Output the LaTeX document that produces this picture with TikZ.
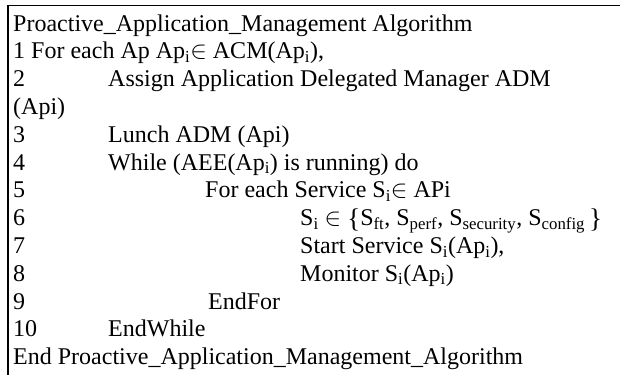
\documentclass[tikz,border=0pt]{standalone}
\usepackage{fontspec}
\setmainfont{Liberation Serif}
\newcommand{\sub}[1]{\textsubscript{#1}}
\newcommand{\tallbrace}[1]{\raisebox{-1.5pt}{\fontsize{27pt}{28pt}\selectfont #1}}
\begin{document}
\begin{tikzpicture}[x=1pt,y=-1pt,
  txt/.style={anchor=base west, inner sep=0pt, font=\fontsize{24pt}{28pt}\selectfont},
  rule/.style={line width=1.6pt, black}]
\useasboundingbox (0,0) rectangle (620,375);
% frame: top and left rules only
\coordinate (tl) at (8,5.5);
\coordinate (tr) at (620,5.5);
\coordinate (bl) at (8,375);
\draw[rule] (tr) -- (tl) -- (bl);
% algorithm listing
\node[txt] (title) at (13,31) {Proactive\_Application\_Management Algorithm};
\node[txt] (l1) at (13,58.8) {1 For each Ap Ap\sub{i}$\in$ ACM(Ap\sub{i}),};
\node[txt] (n2) at (13,86.6) {2};
\node[txt] (l2) at (108,86.6) {Assign Application Delegated Manager ADM};
\node[txt] (l2b) at (13,114.4) {(Api)};
\node[txt] (n3) at (13,142.2) {3};
\node[txt] (l3) at (108,142.2) {Lunch ADM (Api)};
\node[txt] (n4) at (13,170) {4};
\node[txt] (l4) at (108,170) {While (AEE(Ap\sub{i}) is running) do};
\node[txt] (n5) at (13,197.8) {5};
\node[txt] (l5) at (205,197.8) {For each Service S\sub{i}$\in$ APi};
\node[txt] (n6) at (13,225.6) {6};
\node[txt] (l6) at (300,225.6) {S\sub{i} $\in$ \tallbrace{\{}S\sub{ft}, S\sub{perf}, S\sub{security}, S\sub{config}\,\tallbrace{\}}};
\node[txt] (n7) at (13,253.4) {7};
\node[txt] (l7) at (300,253.4) {Start Service S\sub{i}(Ap\sub{i}),};
\node[txt] (n8) at (13,281.2) {8};
\node[txt] (l8) at (300,281.2) {Monitor S\sub{i}(Ap\sub{i})};
\node[txt] (n9) at (13,309) {9};
\node[txt] (l9) at (208,309) {EndFor};
\node[txt] (n10) at (13,336.8) {10};
\node[txt] (l10) at (108,336.8) {EndWhile};
\node[txt] (end) at (13,364.6) {End Proactive\_Application\_Management\_Algorithm};
\end{tikzpicture}
\end{document}
